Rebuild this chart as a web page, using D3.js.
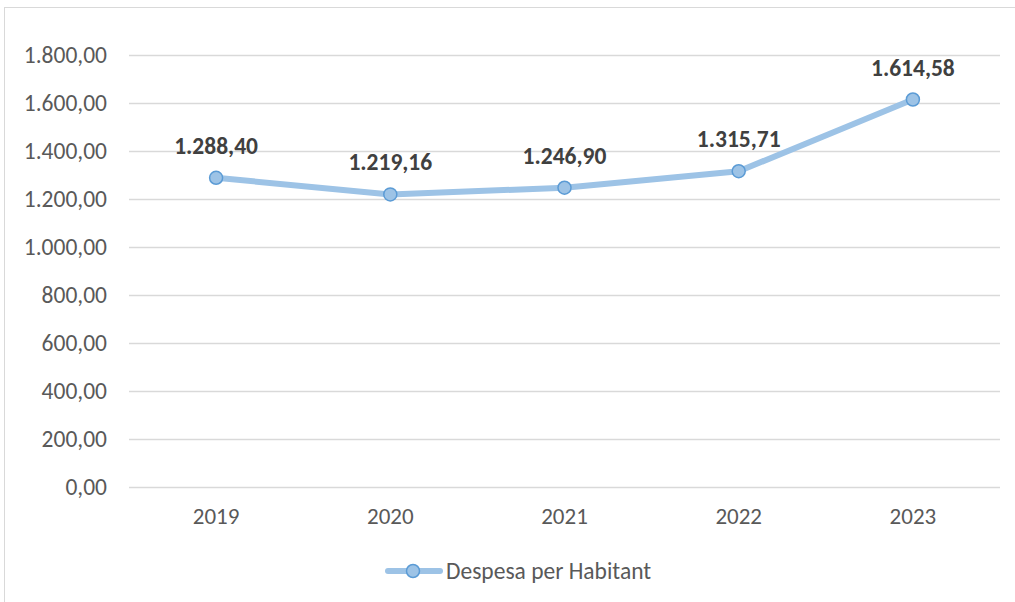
<!DOCTYPE html>
<html>
<head>
<meta charset="utf-8">
<script src="https://cdn.jsdelivr.net/npm/d3@7"></script>
<style>
  body { margin: 0; background: #fff; }
  text { font-family: Carlito, Calibri, Lato, sans-serif; }
</style>
</head>
<body>
<div id="chart"></div>
<script>
// data
var years = ["2019", "2020", "2021", "2022", "2023"];
var values = [1288.40, 1219.16, 1246.90, 1315.71, 1614.58];
var yTicks = [0, 200, 400, 600, 800, 1000, 1200, 1400, 1600, 1800];
var seriesName = "Despesa per Habitant";

var W = 1015, H = 602;
var FONT = "Carlito, Calibri, Lato, sans-serif";
var svg = d3.select("#chart").append("svg")
    .attr("width", W).attr("height", H);

// outer chart border
svg.append("rect")
    .attr("x", 4.5).attr("y", 7.5)
    .attr("width", W + 10).attr("height", H + 10)
    .attr("fill", "none").attr("stroke", "#d9d9d9").attr("stroke-width", 1);

var x = d3.scaleBand().domain(years).range([129, 1000]);
var y = d3.scaleLinear().domain([0, 1800]).range([487, 55]);

var fmt = function(v) {
  var s = v.toFixed(2).split(".");
  return s[0].replace(/\B(?=(\d{3})+(?!\d))/g, ".") + "," + s[1];
};

// gridlines
svg.append("g").selectAll("line").data(yTicks).enter().append("line")
    .attr("x1", 129).attr("x2", 1000)
    .attr("y1", function(d) { return Math.round(y(d)) + 0.5; })
    .attr("y2", function(d) { return Math.round(y(d)) + 0.5; })
    .attr("stroke", "#d9d9d9").attr("stroke-width", 1.5);

// y axis labels
var yAxis = d3.axisLeft(y).tickValues(yTicks).tickFormat(fmt).tickSize(0).tickPadding(0);
var gy = svg.append("g").attr("transform", "translate(107,0)").call(yAxis);
gy.select(".domain").remove();
gy.selectAll("text")
    .attr("fill", "#595959")
    .style("font-size", "23.5px")
    .style("font-family", FONT);

// x axis labels
var xAxis = d3.axisBottom(x).tickSize(0).tickPadding(0);
var gx = svg.append("g").attr("transform", "translate(0,508)").call(xAxis);
gx.select(".domain").remove();
gx.selectAll("text")
    .attr("fill", "#595959")
    .style("font-size", "23px")
    .style("font-family", FONT);

var cx = function(d, i) { return x(years[i]) + x.bandwidth() / 2; };

// line
var line = d3.line()
    .x(function(d, i) { return cx(d, i); })
    .y(function(d) { return y(d); });

svg.append("path")
    .datum(values)
    .attr("d", line)
    .attr("fill", "none")
    .attr("stroke", "#9dc3e6")
    .attr("stroke-width", 6)
    .attr("stroke-linejoin", "round")
    .attr("stroke-linecap", "round");

svg.append("g").selectAll("circle").data(values).enter().append("circle")
    .attr("cx", cx)
    .attr("cy", function(d) { return y(d); })
    .attr("r", 6.5)
    .attr("fill", "#9dc3e6")
    .attr("stroke", "#5b9bd5")
    .attr("stroke-width", 1.5);

// data labels
svg.append("g").selectAll("text").data(values).enter().append("text")
    .attr("x", cx)
    .attr("y", function(d) { return y(d) - 24; })
    .attr("text-anchor", "middle")
    .attr("fill", "#404040")
    .style("font-size", "23.5px")
    .style("font-weight", "bold")
    .text(fmt);

// legend
var lg = svg.append("g");
lg.append("line")
    .attr("x1", 388).attr("x2", 440)
    .attr("y1", 571).attr("y2", 571)
    .attr("stroke", "#9dc3e6").attr("stroke-width", 6)
    .attr("stroke-linecap", "round");
lg.append("circle")
    .attr("cx", 413).attr("cy", 571).attr("r", 6.5)
    .attr("fill", "#9dc3e6").attr("stroke", "#5b9bd5").attr("stroke-width", 1.5);
lg.append("text")
    .attr("x", 446).attr("y", 579)
    .attr("fill", "#595959")
    .style("font-size", "23.5px")
    .text(seriesName);
</script>
</body>
</html>
